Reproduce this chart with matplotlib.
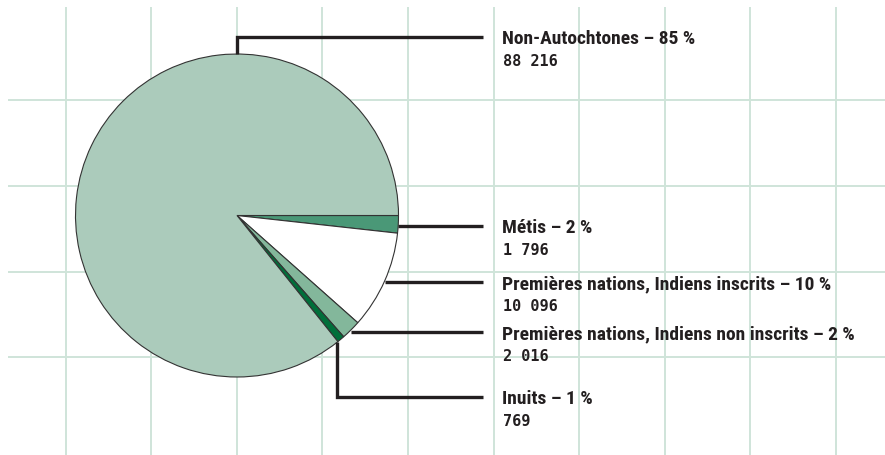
import matplotlib
matplotlib.use("Agg")
import matplotlib.pyplot as plt
import numpy as np
from matplotlib import font_manager

# population by identity group (pie order, starting right and going clockwise)
groups = ["Métis", "Premières nations, Indiens inscrits",
          "Premières nations, Indiens non inscrits", "Inuits", "Non-Autochtones"]
counts = [1796, 10096, 2016, 769, 88216]
pct_labels = ["2 %", "10 %", "2 %", "1 %", "85 %"]
count_labels = ["1 796", "10 096", "2 016", "769", "88 216"]
colors = ["#4a9877", "#ffffff", "#83b79b", "#006f3a", "#abcbbb"]

GRID = "#cfe4d9"
INK = "#231f20"

available = {f.name for f in font_manager.fontManager.ttflist}
narrow = next((f for f in ["Liberation Sans Narrow", "DejaVu Sans Condensed",
                           "Roboto Condensed", "Open Sans Condensed", "Roboto"]
               if f in available), "DejaVu Sans")
mono = "DejaVu Sans Mono"

fig = plt.figure(figsize=(8.85, 4.56), dpi=100)
ax = fig.add_axes([0, 0, 1, 1])

# background grid
xs = 65.5 + 85.6 * np.arange(10)
ys = [101, 187, 273, 358]
ax.vlines(xs, 8, 456, color=GRID, lw=1.4, zorder=0)
ax.hlines(ys, 8, 885, color=GRID, lw=1.4, zorder=0)

cx, cy, r = 237, 216.5, 161.5
wedges, _ = ax.pie(counts, colors=colors, startangle=0, counterclock=True,
                   center=(cx, cy), radius=r, frame=True,
                   wedgeprops=dict(edgecolor="#333333", linewidth=0.8))
ax.set_xlim(0, 885)
ax.set_ylim(456, 0)
ax.set_aspect("equal")
ax.axis("off")
for w in wedges:
    w.set_zorder(2)

line_end = 483
text_x = 502
label_y = [227, 283, 333, 398, 38]

for i, w in enumerate(wedges):
    ang = np.deg2rad((w.theta1 + w.theta2) / 2)
    ax_x = cx + r * np.cos(ang)
    ax_y = cy + r * np.sin(ang)
    ly = label_y[i]
    if groups[i] == "Non-Autochtones":
        px, py = cx, cy - r
        pts = [(px, py), (px, ly), (line_end, ly)]
    elif groups[i] == "Inuits":
        pts = [(ax_x - 4, ax_y + 3), (ax_x - 4, ly), (line_end, ly)]
    else:
        pts = [(ax_x, ly), (line_end, ly)]
    px_, py_ = zip(*pts)
    ax.plot(px_, py_, color=INK, lw=2.4, solid_capstyle="butt",
            solid_joinstyle="miter", zorder=3)
    ax.text(text_x, ly + 1.5, f"{groups[i]} – {pct_labels[i]}", family=narrow,
            fontweight="bold", fontsize=14, color=INK, va="center",
            ha="left", zorder=4)
    ax.text(text_x + 1, ly + 23.5, count_labels[i], family=mono,
            fontweight="bold", fontsize=11, color=INK, va="center",
            ha="left", zorder=4)

fig.savefig("out.png", dpi=100)
